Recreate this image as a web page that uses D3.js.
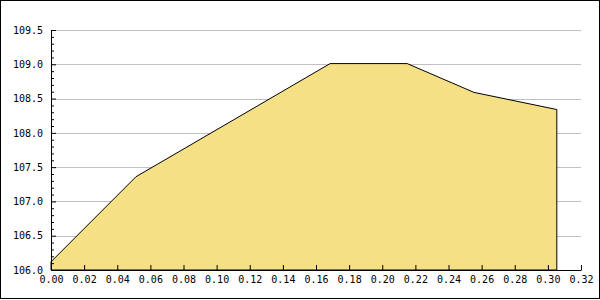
<!DOCTYPE html>
<html>
<head>
<meta charset="utf-8">
<script src="https://cdn.jsdelivr.net/npm/d3@7"></script>
<style>
  body { margin: 0; background: #fff; }
  svg text { font-family: "DejaVu Sans Mono", monospace; font-size: 10px; }
</style>
</head>
<body>
<div class="chart"></div>
<script>
// data
var xValues = [0.0, 0.0513, 0.1685, 0.2151, 0.2554, 0.3054];
var yValues = [106.12, 107.36, 109.01, 109.01, 108.59, 108.34];
var xTicks  = [0, 0.02, 0.04, 0.06, 0.08, 0.10, 0.12, 0.14, 0.16, 0.18, 0.20, 0.22, 0.24, 0.26, 0.28, 0.30, 0.32];
var yTicks  = [106.0, 106.5, 107.0, 107.5, 108.0, 108.5, 109.0, 109.5];
var yMinor  = [106.1, 106.2, 106.3, 106.4, 106.6, 106.7, 106.8, 106.9, 107.1, 107.2, 107.3, 107.4,
               107.6, 107.7, 107.8, 107.9, 108.1, 108.2, 108.3, 108.4, 108.6, 108.7, 108.8, 108.9,
               109.1, 109.2, 109.3, 109.4];

var width = 600, height = 300;
var plotLeft = 51, plotRight = 581, plotTop = 30, plotBottom = 270;

var svg = d3.select(".chart")
    .append("svg")
    .attr("width", width)
    .attr("height", height);

var x = d3.scaleLinear().domain([0, 0.32]).range([plotLeft, plotRight]);
var y = d3.scaleLinear().domain([106, 109.5]).range([plotBottom, plotTop]);

// grid lines
svg.append("g")
    .selectAll("line")
    .data(yTicks)
    .enter()
    .append("line")
    .attr("x1", plotLeft)
    .attr("x2", plotRight)
    .attr("y1", function (d) { return Math.round(y(d)) + 0.5; })
    .attr("y2", function (d) { return Math.round(y(d)) + 0.5; })
    .style("stroke", "#c0c0c0")
    .style("stroke-width", 1);

var points = xValues.map(function (d, i) { return [d, yValues[i]]; });

var area = d3.area()
    .x(function (d) { return x(d[0]); })
    .y0(y(106))
    .y1(function (d) { return y(d[1]); });

svg.append("path")
    .attr("d", area(points))
    .attr("fill", "#f5e085")
    .style("stroke", "#000")
    .style("stroke-width", 1);

// y axis, ticks pointing inward
svg.append("g")
    .attr("transform", "translate(" + plotLeft + ",0)")
    .call(d3.axisLeft(y)
        .tickValues(yMinor)
        .tickSizeInner(-3)
        .tickSizeOuter(0)
        .tickFormat(""))
    .call(function (g) { g.select(".domain").remove(); });

svg.append("g")
    .attr("transform", "translate(" + plotLeft + ",0)")
    .call(d3.axisLeft(y)
        .tickValues(yTicks)
        .tickSizeInner(-5)
        .tickSizeOuter(0)
        .tickPadding(8)
        .tickFormat(d3.format(".1f")));

svg.append("g")
    .attr("transform", "translate(0," + plotBottom + ")")
    .call(d3.axisBottom(x)
        .tickValues(xTicks)
        .tickSizeInner(-5)
        .tickSizeOuter(0)
        .tickPadding(6)
        .tickFormat(d3.format(".2f")));

svg.selectAll(".tick text")
    .attr("fill", "#000")
    .style("font-family", "'DejaVu Sans Mono', monospace")
    .style("font-size", "10px");

// outer frame
svg.append("rect")
    .attr("x", 0.5)
    .attr("y", 0.5)
    .attr("width", 599)
    .attr("height", 298)
    .attr("fill", "none")
    .style("stroke", "#000")
    .style("stroke-width", 1);
</script>
</body>
</html>
